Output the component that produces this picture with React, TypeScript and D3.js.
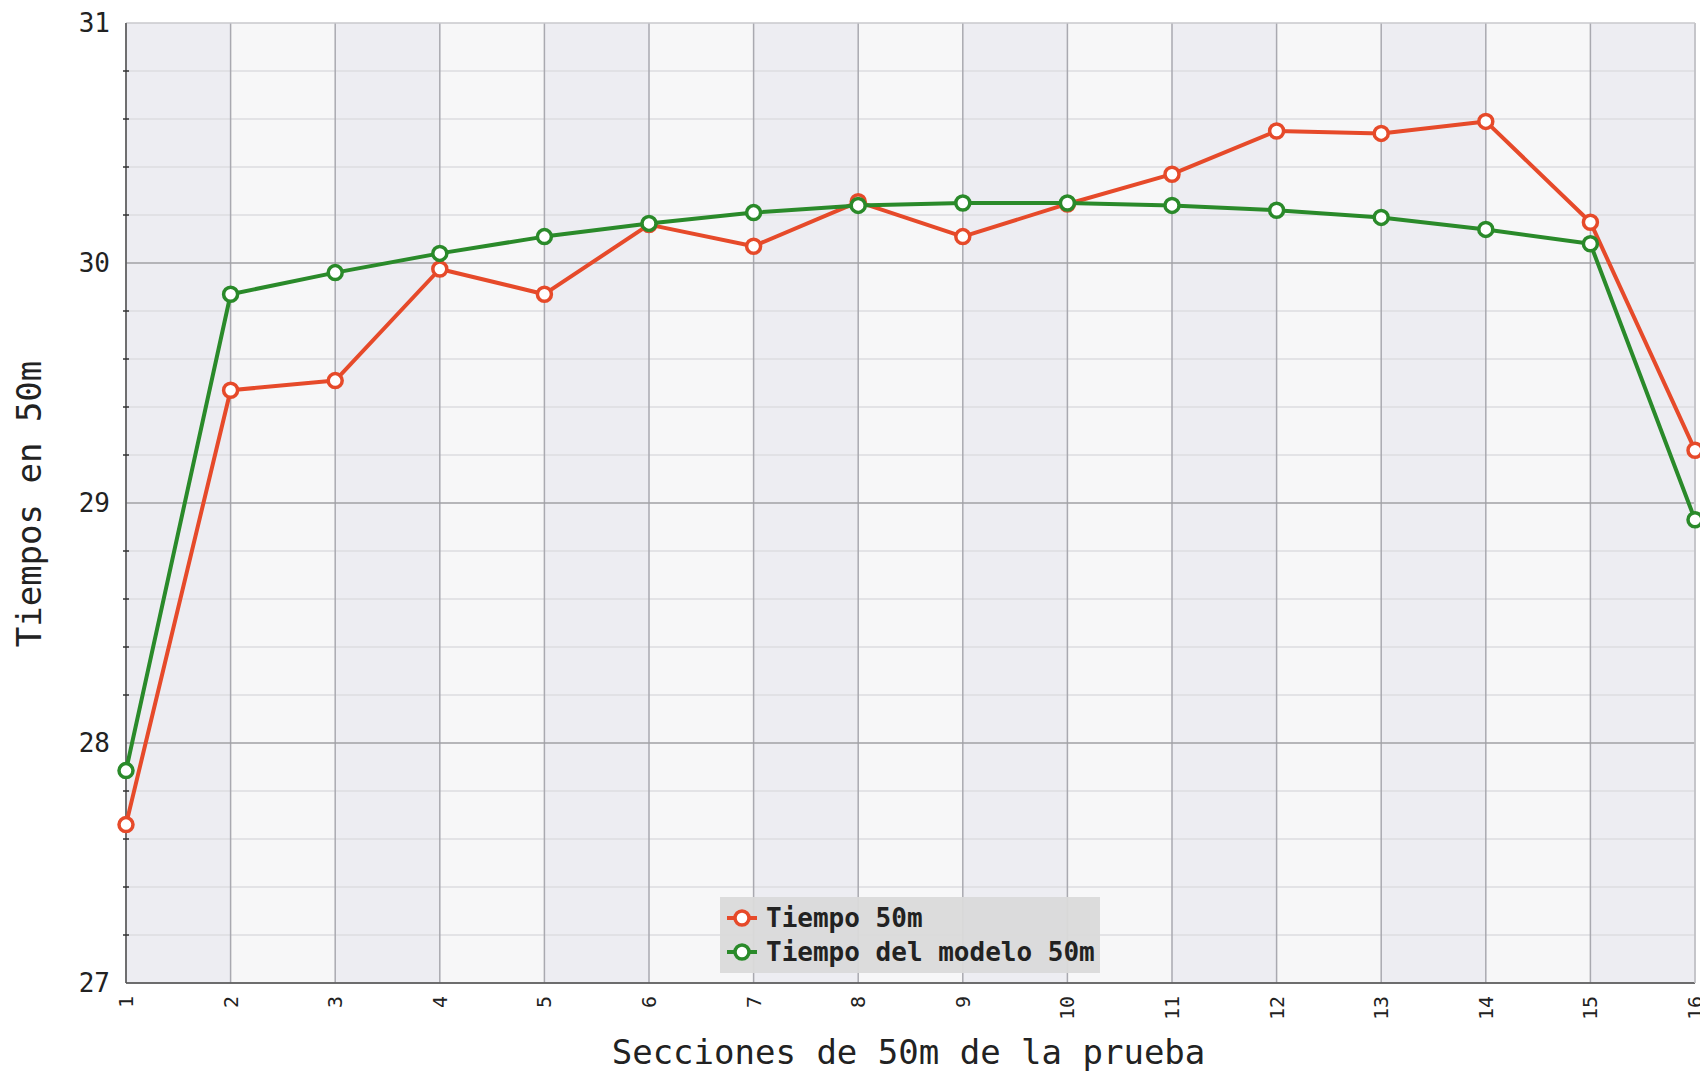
import React, { useEffect, useRef } from 'react';
import * as d3 from 'd3';

const sections = [1, 2, 3, 4, 5, 6, 7, 8, 9, 10, 11, 12, 13, 14, 15, 16];
const tiempo = [27.66, 29.47, 29.51, 29.975, 29.87, 30.16, 30.07, 30.255, 30.11, 30.246, 30.37, 30.55, 30.54, 30.59, 30.17, 29.22];
const modelo = [27.885, 29.87, 29.96, 30.04, 30.11, 30.165, 30.21, 30.24, 30.25, 30.25, 30.24, 30.22, 30.19, 30.14, 30.08, 28.93];
const yTicks = [27, 28, 29, 30, 31];
const seriesNames = ['Tiempo 50m', 'Tiempo del modelo 50m'];
const seriesColors = ['#e64a2a', '#2a8a2a'];

const W = 1700;
const H = 1073;
const FONT = '"DejaVu Sans Mono", monospace';

const App: React.FC = () => {
   const svgRef = useRef<SVGSVGElement | null>(null);

   useEffect(() => {
      if (!svgRef.current) return;
      const svg = d3.select(svgRef.current);
      svg.selectAll('*').remove();

      const margin = { top: 23, left: 126, right: 5, bottom: 90 };
      const x = d3.scaleLinear().domain([1, 16]).range([margin.left, W - margin.right]);
      const y = d3.scaleLinear().domain([27, 31]).range([H - margin.bottom, margin.top]);
      const [x0, x1] = x.range();
      const [y0, y1] = y.range();

      svg.append('rect').attr('width', W).attr('height', H).attr('fill', 'white');

      // alternating column bands
      svg.append('g')
         .selectAll('rect')
         .data(sections.slice(0, -1))
         .enter()
         .append('rect')
         .attr('x', d => x(d))
         .attr('y', y1)
         .attr('width', d => x(d + 1) - x(d))
         .attr('height', y0 - y1)
         .attr('fill', (d, i) => (i % 2 === 0 ? '#ededf2' : '#f7f7f8'));

      // minor horizontal grid
      const minor = d3.range(27, 31.001, 0.2).filter(v => Math.abs(v - Math.round(v)) > 0.01);
      svg.append('g')
         .selectAll('line')
         .data(minor)
         .enter()
         .append('line')
         .attr('x1', x0).attr('x2', x1)
         .attr('y1', d => y(d)).attr('y2', d => y(d))
         .attr('stroke', '#dcdce0')
         .attr('stroke-width', 1.5);

      // vertical grid
      svg.append('g')
         .selectAll('line')
         .data(sections)
         .enter()
         .append('line')
         .attr('x1', d => x(d)).attr('x2', d => x(d))
         .attr('y1', y1).attr('y2', y0)
         .attr('stroke', '#a9a9b0')
         .attr('stroke-width', 1.5);

      // major horizontal grid
      svg.append('g')
         .selectAll('line')
         .data(yTicks)
         .enter()
         .append('line')
         .attr('x1', x0).attr('x2', x1)
         .attr('y1', d => y(d)).attr('y2', d => y(d))
         .attr('stroke', d => (d === 31 ? '#c8c8cc' : '#a0a0a4'))
         .attr('stroke-width', 1.5);

      // axes lines
      svg.append('line').attr('x1', x0).attr('x2', x0).attr('y1', y1).attr('y2', y0)
         .attr('stroke', '#555').attr('stroke-width', 1.5);
      svg.append('line').attr('x1', x0).attr('x2', x1).attr('y1', y0).attr('y2', y0)
         .attr('stroke', '#555').attr('stroke-width', 1.5);
      svg.append('line').attr('x1', x1).attr('x2', x1).attr('y1', y1).attr('y2', y0)
         .attr('stroke', '#c8c8cc').attr('stroke-width', 1.5);

      // minor ticks on y axis
      svg.append('g')
         .selectAll('line')
         .data(minor)
         .enter()
         .append('line')
         .attr('x1', x0 - 3).attr('x2', x0 + 3)
         .attr('y1', d => y(d)).attr('y2', d => y(d))
         .attr('stroke', '#333').attr('stroke-width', 1.5);

      // y tick labels
      svg.append('g')
         .selectAll('text')
         .data(yTicks)
         .enter()
         .append('text')
         .attr('x', x0 - 16)
         .attr('y', d => y(d))
         .attr('dy', '0.35em')
         .attr('text-anchor', 'end')
         .attr('font-family', FONT)
         .attr('font-size', 26)
         .attr('fill', '#222')
         .text(d => d);

      // x tick labels (rotated)
      svg.append('g')
         .selectAll('text')
         .data(sections)
         .enter()
         .append('text')
         .attr('transform', d => `translate(${x(d)},${y0 + 13}) rotate(-90)`)
         .attr('dy', '0.35em')
         .attr('text-anchor', 'end')
         .attr('font-family', FONT)
         .attr('font-size', 20)
         .attr('fill', '#222')
         .text(d => d);

      // axis titles
      svg.append('text')
         .attr('x', (x0 + x1) / 2 - 2)
         .attr('y', 1064)
         .attr('text-anchor', 'middle')
         .attr('font-family', FONT)
         .attr('font-size', 34)
         .attr('fill', '#222')
         .text('Secciones de 50m de la prueba');

      svg.append('text')
         .attr('transform', `translate(41,504) rotate(-90)`)
         .attr('text-anchor', 'middle')
         .attr('font-family', FONT)
         .attr('font-size', 34)
         .attr('fill', '#222')
         .text('Tiempos en 50m');

      // series
      const line = d3.line<number>()
         .x((d, i) => x(sections[i]))
         .y(d => y(d));

      [tiempo, modelo].forEach((vals, s) => {
         const g = svg.append('g');
         g.append('path')
            .attr('d', line(vals))
            .attr('fill', 'none')
            .attr('stroke', seriesColors[s])
            .attr('stroke-width', 4)
            .attr('stroke-linejoin', 'round');
         g.selectAll('circle')
            .data(vals)
            .enter()
            .append('circle')
            .attr('cx', (d, i) => x(sections[i]))
            .attr('cy', d => y(d))
            .attr('r', 7)
            .attr('fill', 'white')
            .attr('stroke', seriesColors[s])
            .attr('stroke-width', 3.5);
      });

      // legend
      const lg = svg.append('g');
      lg.append('rect')
         .attr('x', 720).attr('y', 897)
         .attr('width', 380).attr('height', 76)
         .attr('fill', '#dadada')
         .attr('opacity', 0.95);
      seriesNames.forEach((name, i) => {
         const cy = 918 + i * 34;
         lg.append('line')
            .attr('x1', 727).attr('x2', 757)
            .attr('y1', cy).attr('y2', cy)
            .attr('stroke', seriesColors[i]).attr('stroke-width', 4);
         lg.append('circle')
            .attr('cx', 742).attr('cy', cy).attr('r', 7)
            .attr('fill', 'white')
            .attr('stroke', seriesColors[i]).attr('stroke-width', 3.5);
         lg.append('text')
            .attr('x', 766).attr('y', cy)
            .attr('dy', '0.35em')
            .attr('font-family', FONT)
            .attr('font-size', 26)
            .attr('font-weight', 'bold')
            .attr('fill', '#222')
            .text(name);
      });
   }, []);

   return (
      <svg
         ref={svgRef}
         width={W}
         height={H}
         style={{ position: 'absolute', left: 0, top: 0 }}
      />
   );
};

export default App;
